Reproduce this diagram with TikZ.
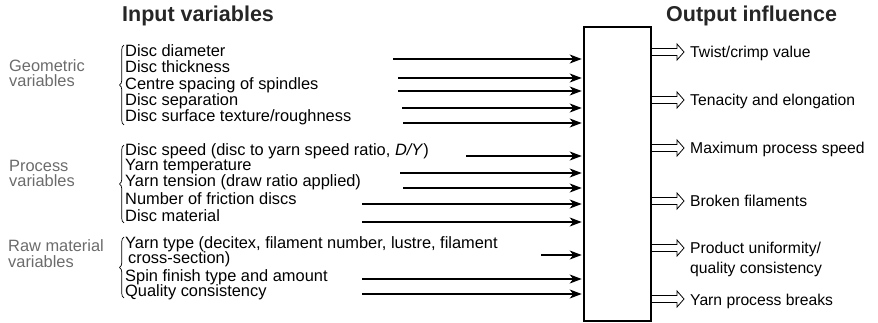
\documentclass[tikz,border=0pt]{standalone}
\usepackage{fontspec}
\setmainfont{Liberation Sans}
\usetikzlibrary{arrows.meta,decorations.pathreplacing}
\definecolor{labgray}{gray}{0.42}
\tikzset{
  txt/.style={anchor=base west,inner sep=0pt,font=\fontsize{16.4}{16.4}\selectfont},
  otxt/.style={anchor=base west,inner sep=0pt,font=\fontsize{15.7}{15.7}\selectfont},
  lab/.style={txt,text=labgray},
  title/.style={anchor=base west,inner sep=0pt,font=\fontsize{21.5}{21.5}\selectfont\bfseries,text=black!85},
  inarrow/.style={line width=1.2pt,-{Stealth[length=12pt,width=9pt,inset=3.5pt]},shorten >=1.5pt},
  bracestyle/.style={line width=0.7pt,decorate,decoration={brace,amplitude=4.5pt}},
  hollowarrow/.pic={\draw[line width=0.8pt,fill=white,line join=miter] (0,-3.5) -- (25,-3.5) -- (25,-8) -- (32,0) -- (25,8) -- (25,3.5) -- (0,3.5);}
}
\begin{document}
\begin{tikzpicture}[x=1pt,y=-1pt]
\useasboundingbox (0,0) rectangle (878,323);
% titles
\node[title] (tin) at (122,22) {Input variables};
\node[title] (tout) at (666,22) {Output influence};
% group labels
\node[lab] (gl1) at (9,71.5) {Geometric};
\node[lab] (gl2) at (9,87) {variables};
\node[lab] (pl1) at (9,171.5) {Process};
\node[lab] (pl2) at (9,187) {variables};
\node[lab] (rl1) at (8,251.5) {Raw material};
\node[lab] (rl2) at (8,267) {variables};
% braces
\coordinate (gb1) at (124,125); \coordinate (gb2) at (124,45);
\coordinate (pb1) at (124,223); \coordinate (pb2) at (124,145);
\coordinate (rb1) at (124,298); \coordinate (rb2) at (124,237);
\draw[bracestyle] (gb1) -- (gb2);
\draw[bracestyle] (pb1) -- (pb2);
\draw[bracestyle] (rb1) -- (rb2);
% input texts
\node[txt] (g1) at (125,56.7) {Disc diameter};
\node[txt] (g2) at (125,72.9) {Disc thickness};
\node[txt] (g3) at (125,89.2) {Centre spacing of spindles};
\node[txt] (g4) at (125,105.4) {Disc separation};
\node[txt] (g5) at (125,121.7) {Disc surface texture/roughness};
\node[txt] (p1) at (125,155.5) {Disc speed (disc to yarn speed ratio, \textit{D/Y})};
\node[txt] (p2) at (125,171) {Yarn temperature};
\node[txt] (p3) at (125,187) {Yarn tension (draw ratio applied)};
\node[txt] (p4) at (125,205) {Number of friction discs};
\node[txt] (p5) at (125,221.5) {Disc material};
\node[txt] (r1) at (125,248) {Yarn type (decitex, filament number, lustre, filament};
\node[txt] (r1b) at (128,263.5) {cross-section)};
\node[txt] (r2) at (125,281.5) {Spin finish type and amount};
\node[txt] (r3) at (125,296.5) {Quality consistency};
% central box
\node[draw,line width=1.6pt,inner sep=0pt,minimum width=67pt,minimum height=294pt] (box) at (617.5,174) {};
% input arrow start points
\coordinate (sg1) at (393,59);
\coordinate (sg2) at (398,78);
\coordinate (sg3) at (398,91);
\coordinate (sg4) at (402,108);
\coordinate (sg5) at (403,123);
\coordinate (sp1) at (466,156);
\coordinate (sp2) at (400,173);
\coordinate (sp3) at (403,188);
\coordinate (sp4) at (362,204);
\coordinate (sp5) at (362,222);
\coordinate (sr1) at (541,255);
\coordinate (sr2) at (362,279);
\coordinate (sr3) at (362,294);
\foreach \s in {sg1,sg2,sg3,sg4,sg5,sp1,sp2,sp3,sp4,sp5,sr1,sr2,sr3}
  \draw[inarrow] (\s) -- (box.west |- \s);
% output labels
\node[otxt] (o1) at (690,58) {Twist/crimp value};
\node[otxt] (o2) at (690,106) {Tenacity and elongation};
\node[otxt] (o3) at (690,154) {Maximum process speed};
\node[otxt] (o4) at (690,207) {Broken filaments};
\node[otxt] (o5) at (690,254) {Product uniformity/};
\node[otxt] (o5b) at (690,273) {quality consistency};
\node[otxt] (o6) at (690,305) {Yarn process breaks};
% hollow output arrows
\coordinate (h1) at (652,52);
\coordinate (h2) at (652,100);
\coordinate (h3) at (652,148);
\coordinate (h4) at (652,201);
\coordinate (h5) at (652,248);
\coordinate (h6) at (652,299);
\foreach \h in {h1,h2,h3,h4,h5,h6}
  \pic at (\h) {hollowarrow};
\end{tikzpicture}
\end{document}
